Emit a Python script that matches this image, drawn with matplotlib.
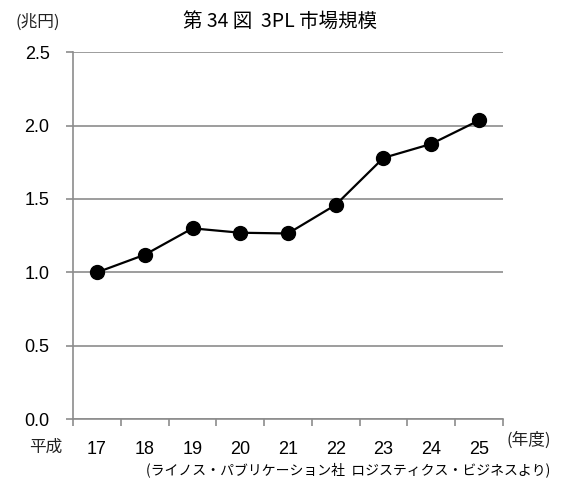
import matplotlib.pyplot as plt

plt.rcParams["font.family"] = ["Noto Sans CJK JP", "DejaVu Sans"]

years = ["17", "18", "19", "20", "21", "22", "23", "24", "25"]
market_size = [1.00, 1.12, 1.30, 1.27, 1.265, 1.46, 1.78, 1.875, 2.035]
y_ticks = [0.0, 0.5, 1.0, 1.5, 2.0, 2.5]

fig = plt.figure(figsize=(5.63, 4.79), dpi=100)
ax = fig.add_axes([0.130, 0.125, 0.763, 0.766])

x = list(range(len(years)))
ax.plot(x, market_size, color="black", linewidth=1.6, marker="o",
        markersize=10, zorder=3, clip_on=False)

ax.set_xlim(-0.5, len(years) - 0.5)
ax.set_ylim(0, 2.5)
ax.set_yticks(y_ticks)
ax.set_yticklabels([f"{v:.1f}" for v in y_ticks],
                   fontfamily="Liberation Sans", fontsize=13)
ax.yaxis.grid(True, color="#8c8c8c", linewidth=1.2)
ax.set_axisbelow(True)

# category labels centered, tick marks sit between categories
ax.set_xticks(x)
ax.set_xticklabels(years, fontfamily="Liberation Sans", fontsize=13)
ax.tick_params(axis="x", length=0, pad=16)
ax.set_xticks([i - 0.5 for i in range(len(years) + 1)], minor=True)
ax.tick_params(axis="x", which="minor", length=5, color="#8c8c8c", width=1.2)
ax.tick_params(axis="y", length=5, color="#8c8c8c", width=1.2, pad=12)

for side in ["top", "right"]:
    ax.spines[side].set_visible(False)
for side in ["left", "bottom"]:
    ax.spines[side].set_color("#8c8c8c")
    ax.spines[side].set_linewidth(1.2)

fig.text(0.498, 0.956, "第 34 図  3PL 市場規模", ha="center", va="center", fontsize=14)
fig.text(0.067, 0.953, "(兆円)", ha="center", va="center", fontsize=12, color="#222222")
fig.text(0.081, 0.066, "平成", ha="center", va="center", fontsize=12, color="#222222")
fig.text(0.940, 0.081, "(年度)", ha="center", va="center", fontsize=12, color="#222222")
fig.text(0.618, 0.020, "(ライノス・パブリケーション社  ロジスティクス・ビジネスより)",
         ha="center", va="center", fontsize=10)

fig.savefig("out.png", dpi=100)
